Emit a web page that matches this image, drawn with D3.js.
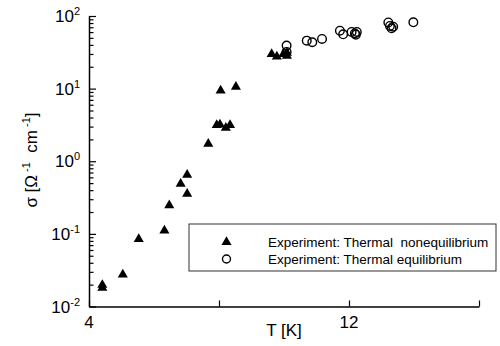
<!DOCTYPE html>
<html><head><meta charset="utf-8">
<script src="https://cdn.jsdelivr.net/npm/d3@7"></script>
<style>body{margin:0;background:#fff}svg{display:block}text{font-family:"Liberation Sans",Arial,sans-serif;fill:#000}</style>
</head><body><svg id="c" width="500" height="346"></svg>
<script>
// Data (T in K, sigma in Ω^-1 cm^-1)
const nonEqT = [4.41, 4.41, 5.04, 5.53, 6.32, 6.47, 6.82, 7.02, 7.02, 7.67, 7.93, 8.03, 8.21, 8.34, 8.05, 8.52, 9.62, 9.78, 9.98, 10.09, 10.09];
const nonEqS = [0.0198, 0.0180, 0.0275, 0.085, 0.111, 0.247, 0.488, 0.652, 0.357, 1.74, 3.15, 3.2, 2.89, 3.15, 9.37, 10.6, 30.0, 27.6, 30.0, 31.0, 28.2];
const eqT = [10.08, 10.08, 10.70, 10.87, 11.17, 11.72, 11.82, 12.08, 12.18, 12.24, 12.21, 13.21, 13.26, 13.31, 13.36, 13.98];
const eqS = [39.1, 32.0, 45.8, 43.5, 48.3, 62.8, 56.0, 60.3, 57.5, 60.3, 55.3, 81.5, 72.9, 67.8, 71.3, 81.9];
const xTicks = [4, 8, 12, 16];
const xTickLabels = ["4", "", "12", ""];
const yMajor = [0.01, 0.1, 1, 10, 100];
const yExp = ["-2", "-1", "0", "1", "2"];
const legendLabels = ["Experiment: Thermal\u00a0 nonequilibrium", "Experiment: Thermal equilibrium"];

const svg = d3.select("#c");
const x = d3.scaleLinear().domain([4, 16]).range([89, 479]);
const y = d3.scaleLog().domain([0.01, 100]).range([306.5, 16]);

// minor ticks
const yMinor = [];
for (let e = -2; e < 2; e++) for (let m = 2; m <= 9; m++) yMinor.push(m * Math.pow(10, e));

const gMinor = svg.append("g").attr("transform", `translate(${x(4)},0)`)
  .call(d3.axisLeft(y).tickValues(yMinor).tickSizeInner(-4.5).tickSizeOuter(0).tickFormat(""));
gMinor.select(".domain").remove();
const gY = svg.append("g").attr("transform", `translate(${x(4)},0)`)
  .call(d3.axisLeft(y).tickValues(yMajor).tickSizeInner(-7).tickSizeOuter(0).tickFormat(""));
svg.selectAll("g .tick line").attr("stroke", "#000").attr("stroke-width", 1.2);
gY.select(".domain").attr("stroke", "#000").attr("stroke-width", 1.5);

const gX = svg.append("g").attr("transform", `translate(0,${y(0.01)})`)
  .call(d3.axisBottom(x).tickValues(xTicks).tickSizeInner(-6).tickSizeOuter(0).tickFormat(""));
gX.selectAll(".tick line").attr("stroke", "#000").attr("stroke-width", 1.2);
gX.select(".domain").attr("stroke", "#000").attr("stroke-width", 1.5);

// y tick labels
yMajor.forEach((v, i) => {
  const t = svg.append("text").attr("x", 80).attr("y", y(v) + 6).attr("text-anchor", "end").attr("font-size", 17);
  t.append("tspan").text("10");
  t.append("tspan").attr("dy", -7).attr("font-size", 11).text(yExp[i]);
});
// x tick labels
xTicks.forEach((v, i) => {
  if (xTickLabels[i]) svg.append("text").attr("x", x(v)).attr("y", 328).attr("text-anchor", "middle").attr("font-size", 17).text(xTickLabels[i]);
});
// axis titles
svg.append("text").attr("x", 284).attr("y", 336).attr("text-anchor", "middle").attr("font-size", 17).text("T [K]");
const yt = svg.append("text").attr("transform", "translate(37,160) rotate(-90)").attr("text-anchor", "middle").attr("font-size", 17);
yt.append("tspan").text("σ [Ω");
yt.append("tspan").attr("dy", -7).attr("font-size", 11).text("\u00a0-1");
yt.append("tspan").attr("dy", 7).text("\u00a0\u00a0cm");
yt.append("tspan").attr("dy", -7).attr("font-size", 11).text("\u00a0-1");
yt.append("tspan").attr("dy", 7).text("]");

const tri = d3.symbol().type(d3.symbolTriangle).size(44);
// legend
svg.append("rect").attr("x", 189).attr("y", 224).attr("width", 307).attr("height", 47)
  .attr("fill", "#fff").attr("stroke", "#333").attr("stroke-width", 1);
svg.append("path").attr("d", tri).attr("transform", "translate(226.5,242)").attr("fill", "#000");
svg.append("circle").attr("cx", 226.5).attr("cy", 259).attr("r", 4).attr("fill", "none").attr("stroke", "#000").attr("stroke-width", 1.4);
legendLabels.forEach((l, i) => {
  svg.append("text").attr("x", 268).attr("y", 246.5 + i * 17).attr("font-size", 13.5).text(l);
});

// data
svg.append("g").selectAll("circle").data(eqT.map((t, i) => [t, eqS[i]])).join("circle")
  .attr("cx", d => x(d[0])).attr("cy", d => y(d[1])).attr("r", 4.3)
  .attr("fill", "none").attr("stroke", "#000").attr("stroke-width", 1.4);
svg.append("g").selectAll("path").data(nonEqT.map((t, i) => [t, nonEqS[i]])).join("path")
  .attr("d", tri).attr("transform", d => `translate(${x(d[0])},${y(d[1])})`).attr("fill", "#000");
</script></body></html>
